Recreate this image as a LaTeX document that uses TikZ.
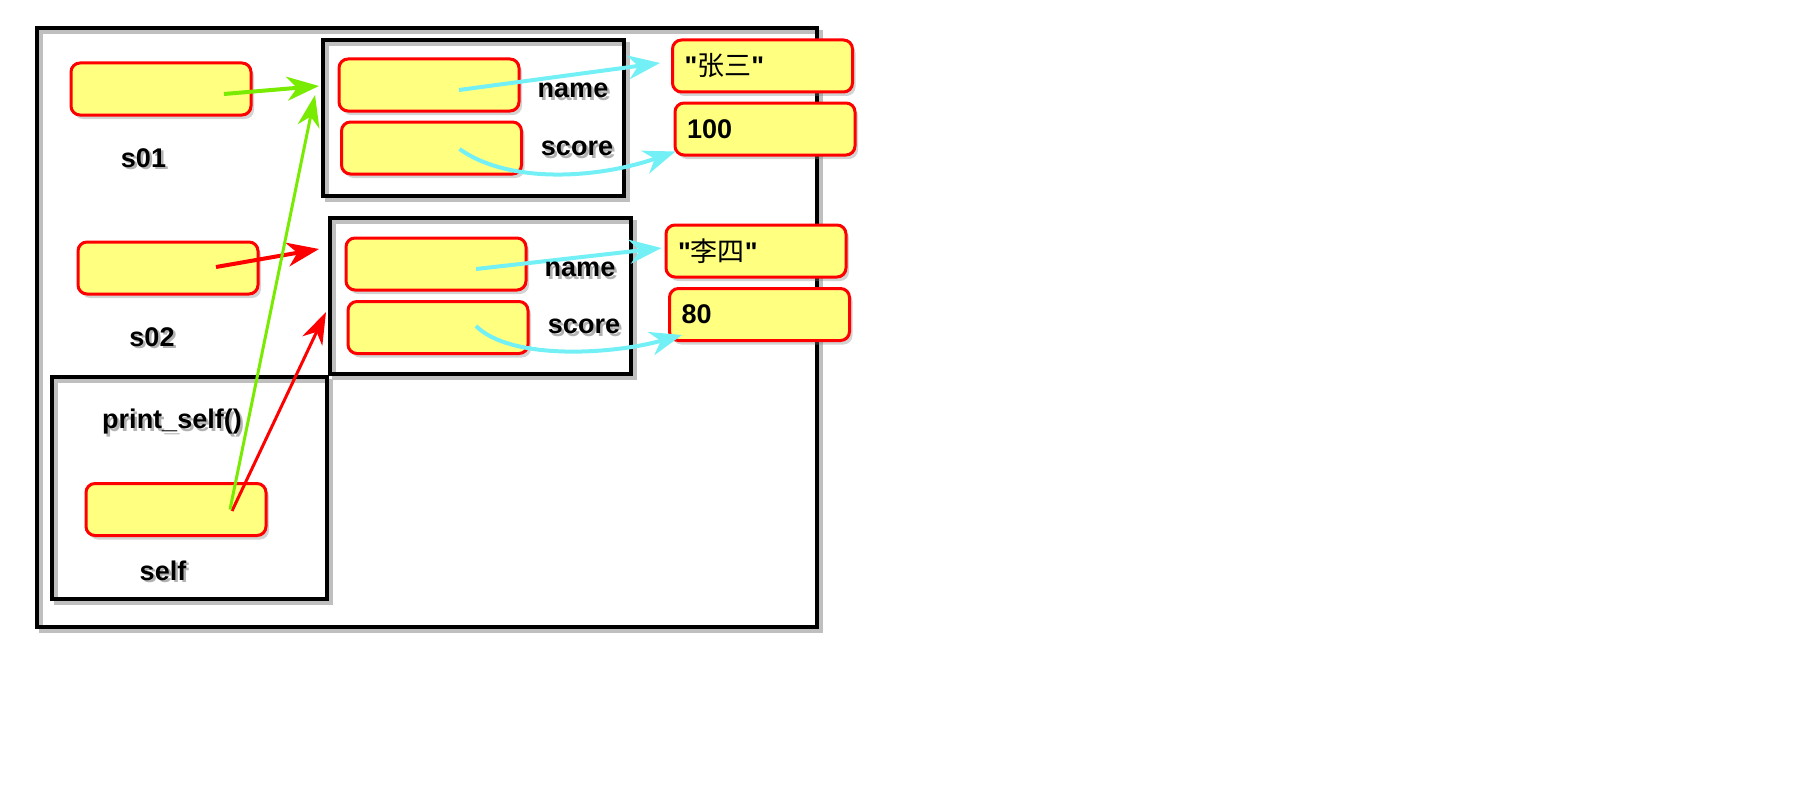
\documentclass[tikz,border=0pt]{standalone}
\usepackage{fontspec}
\setmainfont{Liberation Sans}[Ligatures=TeXOff]
\newfontfamily\cjk{Noto Sans CJK SC}
\usetikzlibrary{arrows.meta,shadows,calc}
\definecolor{boxyellow}{RGB}{255,255,128}
\definecolor{arrcyan}{RGB}{115,240,245}
\definecolor{arrgreen}{RGB}{120,235,0}
\definecolor{arrred}{RGB}{255,0,0}
\newcommand\shtxt[1]{\makebox[0pt][l]{\hspace{2.5pt}\raisebox{-2.5pt}{\textcolor{black!30}{#1}}}#1}
\begin{document}
\begin{tikzpicture}[x=1pt,y=-1pt,
  frame/.style={draw=black, line width=4pt, inner sep=0pt,
    preaction={draw=black!25, line width=4pt, transform canvas={xshift=4pt,yshift=-4pt}}},
  cell/.style={draw=red, line width=3pt, fill=boxyellow, rounded corners=9pt,
    minimum width=180pt, minimum height=52pt, inner sep=0pt,
    drop shadow={shadow xshift=3pt,shadow yshift=-4pt,opacity=.35}},
  val/.style={cell, text width=156pt, align=left, font=\bfseries\fontsize{27}{30}\selectfont},
  lbl/.style={font=\bfseries\fontsize{27}{30}\selectfont, inner sep=0pt},
  arr/.style={line width=4pt, -{Stealth[length=32pt,width=24pt,inset=10pt]}},
  thinarr/.style={line width=3pt, -{Stealth[length=32pt,width=22pt,inset=10pt]}}
]
\useasboundingbox (0,0) rectangle (1800,800);

% frames
\node[frame, minimum width=780pt, minimum height=599pt] (outer) at (427,327.5) {};
\node[frame, minimum width=301pt, minimum height=156pt] (obj1) at (473.5,118) {};
\node[frame, minimum width=301pt, minimum height=156pt] (obj2) at (480.5,296) {};
\node[frame, minimum width=275pt, minimum height=222pt] (func) at (189.5,488) {};

% cells
\node[cell] (s01) at (161,89) {};
\node[cell] (s02) at (168,268) {};
\node[cell] (self) at (176,509.5) {};
\node[cell] (n1) at (429,85) {};
\node[cell] (sc1) at (431.5,148) {};
\node[cell] (n2) at (436,264) {};
\node[cell] (sc2) at (438,327.5) {};
\node[val] (v1) at (762.5,66) {"{\cjk\mdseries 张三}"};
\node[val] (v2) at (765,129) {100};
\node[val] (v3) at (756,251) {"{\cjk\mdseries 李四}"};
\node[val] (v4) at (759.5,314.5) {80};

% arrows
\draw[arr, arrgreen] ($(s01.center)+(63,5)$) -- ($(obj1.west)+(-2,-32)$);
\draw[arr, arrred] ($(s02.center)+(48,-1)$) -- ($(obj2.west)+(-9,-47)$);
\draw[arr, arrcyan] ($(n1.center)+(30,5)$) -- ($(v1.west)+(-11,-3)$);
\draw[arr, arrcyan] ($(sc1.center)+(28,1)$) .. controls (510,185) and (600,178) .. ($(v2.south west)+(2,-5)$);
\draw[arr, arrcyan] ($(n2.center)+(40,5)$) -- ($(v3.west)+(-3,-3)$);
\draw[arr, arrcyan] ($(sc2.center)+(38,-1.5)$) .. controls (510,360) and (610,355) .. ($(v4.south west)+(14,-7)$);
\draw[thinarr, arrred] ($(self.center)+(56,1.5)$) -- ($(obj2.west)+(-2,16)$);
\draw[thinarr, arrgreen] ($(self.center)+(54,0)$) -- ($(obj1.west)+(-6,-23)$);

% labels
\node[lbl] (ls01) at (143.5,159) {\shtxt{s01}};
\node[lbl] (ls02) at (152,338) {\shtxt{s02}};
\node[lbl] (lps) at (172,423) {\shtxt{print\_self()}};
\node[lbl] (lself) at (163,572) {\shtxt{self}};
\node[lbl] (lname1) at (573,92) {\shtxt{name}};
\node[lbl] (lscore1) at (577,150) {\shtxt{score}};
\node[lbl] (lname2) at (580,271) {\shtxt{name}};
\node[lbl] (lscore2) at (584,328) {\shtxt{score}};
\end{tikzpicture}
\end{document}
